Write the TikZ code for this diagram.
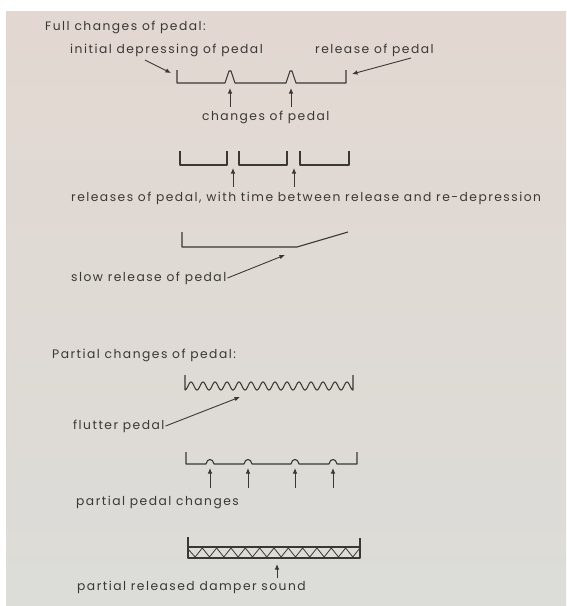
\documentclass[tikz,border=0pt]{standalone}
\usepackage{fontspec}
\setmainfont{Poppins}[LetterSpace=12]
\usetikzlibrary{arrows.meta}
\definecolor{ink}{HTML}{3A3835}
\definecolor{pagetop}{HTML}{E2D8D1}
\definecolor{pagebot}{HTML}{DCDCD8}
\tikzset{
  lbl/.style={anchor=west, inner sep=0pt, text=ink, font=\fontsize{12.3}{14}\selectfont},
  curve/.style={draw=ink, line width=1.1pt, line join=round},
  arr/.style={draw=ink, line width=0.9pt, -{Latex[length=5.5pt,width=4.5pt]}},
}
\begin{document}
\begin{tikzpicture}[x=1pt,y=-1pt]
\useasboundingbox (0,0) rectangle (567,606);
\fill[white] (0,0) rectangle (567,606);
\shade[top color=pagetop, bottom color=pagebot] (6,11) rectangle (566,606);

% ---- Full changes
\node[lbl] (full) at (45,27) {Full changes of pedal:};
\node[lbl] (initial) at (70,50) {initial depressing of pedal};
\node[lbl] (release) at (315,50) {release of pedal};
\draw[curve] (177,70) -- (177,83) -- (225,83) -- (229,71) -- (231,71) -- (235,83)
  -- (286,83) -- (290,71) -- (292,71) -- (296,83) -- (346,83) -- (346,70);
\coordinate (iA) at (145,60);
\coordinate (iB) at (171,73);
\draw[arr] (iA) -- (iB);
\coordinate (rA) at (411,58);
\coordinate (rB) at (352,74);
\draw[arr] (rA) -- (rB);
\node[lbl] (changes) at (202,117) {changes of pedal};
\coordinate (c1) at (230,107);
\coordinate (c1t) at (230,88);
\coordinate (c2) at (291,107);
\coordinate (c2t) at (291,88);
\draw[arr] (c1) -- (c1t);
\draw[arr] (c2) -- (c2t);

% ---- releases with time between
\draw[curve] (180,151) -- (180,165) -- (227,165) -- (227,151);
\draw[curve] (239,151) -- (239,165) -- (287,165) -- (287,151);
\draw[curve] (300,151) -- (300,165) -- (349,165) -- (349,151);
\coordinate (t1) at (233,187);
\coordinate (t1t) at (233,168);
\coordinate (t2) at (294,187);
\coordinate (t2t) at (294,168);
\draw[arr] (t1) -- (t1t);
\draw[arr] (t2) -- (t2t);
\node[lbl] (releases) at (71,198) {releases of pedal, with time between release and re-depression};

% ---- slow release
\draw[curve] (182,232) -- (182,247) -- (297,247) -- (348,232);
\node[lbl] (slow) at (71,278) {slow release of pedal};
\coordinate (sB) at (285,255);
\draw[arr] ([xshift=1pt]slow.east) -- (sB);

% ---- Partial changes
\node[lbl] (partial) at (52,355) {Partial changes of pedal:};
\draw[curve] (185,375) -- (185,390)
  plot[domain=0:168, samples=300, smooth] ({185+\x},{386+4*cos(\x*30)})
  -- (353,375);
\node[lbl] (flutter) at (73,426) {flutter pedal};
\coordinate (fB) at (240,397);
\draw[arr] ([xshift=1pt]flutter.east) -- (fB);

% ---- partial pedal changes
\draw[curve] (186,452) -- (186,464) -- (206,464)
  .. controls (207,458) and (213,458) .. (214,464) -- (244,464)
  .. controls (245,458) and (251,458) .. (252,464) -- (291,464)
  .. controls (292,458) and (298,458) .. (299,464) -- (329,464)
  .. controls (330,458) and (336,458) .. (337,464) -- (357,464) -- (357,452);
\foreach \px [count=\i] in {210,248,295,333}{
  \coordinate (p\i) at (\px,488);
  \coordinate (p\i t) at (\px,468);
  \draw[arr] (p\i) -- (p\i t);
}
\node[lbl] (ppc) at (76,502) {partial pedal changes};

% ---- partial released damper
\draw[curve] (188,537) -- (188,558) -- (360,558) -- (360,538);
\draw[curve] (188,547) -- (360,547);
\draw[draw=ink, line width=0.8pt] (188,549)
  \foreach \k in {0,...,11}{ -- ({188+14.33*\k+7.16},{557}) -- ({188+14.33*(\k+1)},{548}) };
\coordinate (d1) at (277,578);
\coordinate (d1t) at (277,564);
\draw[arr] (d1) -- (d1t);
\node[lbl] (damper) at (77,587) {partial released damper sound};
\end{tikzpicture}
\end{document}
